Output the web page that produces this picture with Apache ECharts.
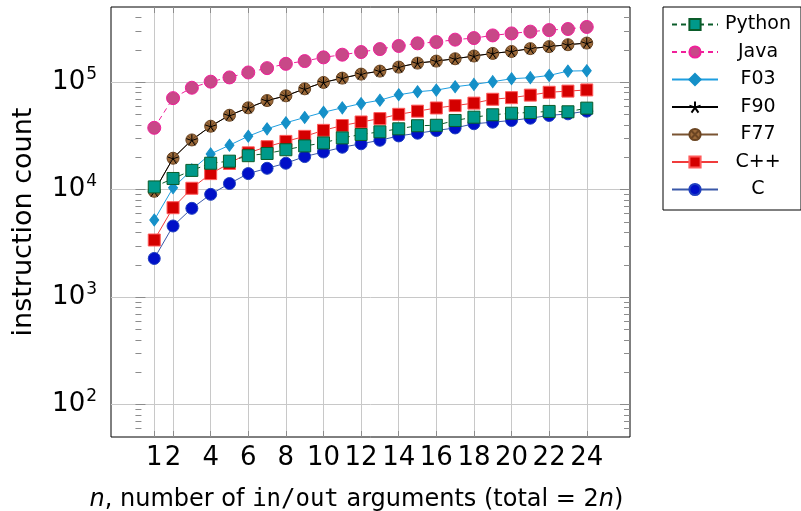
<!DOCTYPE html>
<html>
<head>
<meta charset="utf-8">
<script src="https://cdn.jsdelivr.net/npm/echarts@6/dist/echarts.min.js"></script>
<style>
html, body { margin: 0; padding: 0; background: #fff; }
#chart { width: 801px; height: 511px; }
</style>
</head>
<body>
<div id="chart"></div>
<script>
// n = number of in/out arguments
var nArgs = [1, 2, 3, 4, 5, 6, 7, 8, 9, 10, 11, 12, 13, 14, 15, 16, 17, 18, 19, 20, 21, 22, 23, 24];

// instruction counts
var cCounts = [2290, 4590, 6700, 9040, 11400, 14100, 15800, 17600, 20300, 22400, 24800, 26700,
               28800, 31600, 33500, 35500, 37500, 41000, 42400, 44000, 46200, 49000, 50700, 53700];
var cppCounts = [3400, 6790, 10300, 14100, 17500, 22000, 25100, 28100, 31300, 35600, 39500, 42600,
                 45800, 50200, 53700, 57500, 60500, 63800, 69300, 71700, 75700, 80500, 82500, 84600];
var f77Counts = [9650, 19600, 29000, 38900, 49200, 57700, 67400, 74600, 86700, 99400, 109000, 118800,
                 126700, 138000, 150400, 157000, 165000, 175000, 185000, 193000, 205000, 214000, 223000, 231000];
var f90Counts = [9650, 19600, 29000, 38900, 49200, 57700, 67400, 74600, 86700, 99400, 109000, 118800,
                 126700, 138000, 150400, 157000, 165000, 175000, 185000, 193000, 205000, 214000, 223000, 231000];
var f03Counts = [5220, 10400, 15300, 21500, 25900, 31400, 36800, 41900, 46900, 52500, 57700, 63200,
                 67900, 76300, 81400, 84300, 90600, 95200, 101000, 107600, 110000, 115400, 126700, 127700];
var javaCounts = [37600, 71000, 88700, 101000, 110600, 123000, 135000, 148000, 157000, 170000, 180000, 190500,
                  203000, 217000, 229500, 236000, 248500, 257000, 272000, 284000, 295000, 305000, 312000, 326000];
var pythonCounts = [10600, 12700, 15100, 17600, 18400, 20700, 21700, 23500, 25500, 27200, 30300, 32600,
                    34500, 36800, 39300, 39700, 44000, 47200, 49700, 51400, 52200, 53400, 53000, 57300];

// axes
var xTicks = [1, 2, 4, 6, 8, 10, 12, 14, 16, 18, 20, 22, 24];
var xMin = -1.3, xMax = 26.3;
var yMin = 50, yMax = 500000;
var yMajor = [100, 1000, 10000, 100000];
var yMinor = [60, 70, 80, 90,
              200, 300, 400, 500, 600, 700, 800, 900,
              2000, 3000, 4000, 5000, 6000, 7000, 8000, 9000,
              20000, 30000, 40000, 50000, 60000, 70000, 80000, 90000,
              200000, 300000, 400000];

var legendNames = ['Python', 'Java', 'F03', 'F90', 'F77', 'C++', 'C'];

var FONT = 'DejaVu Sans';
var STAR = 'path://M0,-10L0,0M9.51,-3.09L0,0M5.88,8.09L0,0M-5.88,8.09L0,0M-9.51,-3.09L0,0';
var OTIMES = 'path://M10,0A10,10 0 1 1 -10,0A10,10 0 1 1 10,0ZM-7.07,-7.07L7.07,7.07M-7.07,7.07L7.07,-7.07';

function pairs(vals) {
	var out = [];
	for (var i = 0; i < nArgs.length; i++) {
		out.push([nArgs[i], vals[i]]);
	}
	return out;
}

function logList(arr) {
	return arr.map(function (v) { return Math.log10(v); });
}

// extra value axes in log space, only for the tick marks
function tickAxis(pos, values, len) {
	return {
		type: 'value',
		position: pos,
		min: Math.log10(yMin),
		max: Math.log10(yMax),
		axisLine: { show: false },
		axisLabel: { show: false },
		splitLine: { show: false },
		axisTick: {
			show: true, inside: true, length: len,
			customValues: logList(values),
			lineStyle: { color: '#8c8c8c', width: 1 }
		}
	};
}

function lineSeries(name, vals, opt) {
	return {
		name: name,
		type: 'line',
		xAxisIndex: 0,
		yAxisIndex: 0,
		data: pairs(vals),
		symbol: opt.symbol,
		symbolSize: opt.size,
		showAllSymbol: true,
		lineStyle: { color: opt.line, width: 1, type: opt.dash ? [5, 4] : 'solid' },
		itemStyle: { color: opt.fill, borderColor: opt.border, borderWidth: 1 },
		emphasis: { disabled: true }
	};
}

var chart = echarts.init(document.getElementById('chart'));

var option = {
	animation: false,
	backgroundColor: '#fff',
	textStyle: { fontFamily: FONT },
	grid: {
		left: 111, right: 171, top: 7, bottom: 74,
		outerBoundsMode: 'none',
		containLabel: false,
		show: true, borderColor: '#000', borderWidth: 1, backgroundColor: '#fff'
	},
	legend: {
		data: legendNames,
		orient: 'vertical',
		left: 663, top: 7,
		padding: [8, 8, 11, 8],
		itemGap: 8.5,
		itemWidth: 46,
		itemHeight: 14,
		borderColor: '#000',
		borderWidth: 1,
		borderRadius: 0,
		backgroundColor: '#fff',
		formatter: function (name) { return '{t|' + name + '}'; },
		textStyle: {
			color: '#000',
			rich: { t: { width: 70, align: 'center', fontSize: 19, lineHeight: 20, fontFamily: FONT, color: '#000' } }
		}
	},
	xAxis: [{
		type: 'value',
		min: xMin, max: xMax,
		position: 'bottom',
		axisLine: { show: false },
		axisTick: {
			show: true, inside: true, length: 6,
			customValues: xTicks,
			lineStyle: { color: '#8c8c8c' }
		},
		axisLabel: {
			customValues: xTicks,
			fontSize: 26, color: '#000', margin: 8, fontFamily: FONT
		},
		splitLine: { show: true, lineStyle: { color: '#c8c8c8', width: 1 } },
		name: '{i|n}, number of {m|in/out} arguments (total = 2{i|n})',
		nameLocation: 'middle',
		nameGap: 51,
		nameTextStyle: {
			fontSize: 24, color: '#000', fontFamily: FONT,
			padding: [0, 28, 0, 0],
			rich: {
				i: { fontSize: 24, fontStyle: 'italic', fontFamily: FONT, color: '#000' },
				m: { fontSize: 24, fontFamily: 'DejaVu Sans Mono', color: '#000' }
			}
		}
	}, {
		type: 'value',
		min: xMin, max: xMax,
		position: 'top',
		axisLine: { show: false },
		axisLabel: { show: false },
		splitLine: { show: false },
		axisTick: {
			show: true, inside: true, length: 6,
			customValues: xTicks,
			lineStyle: { color: '#8c8c8c' }
		}
	}],
	yAxis: [{
		type: 'log',
		logBase: 10,
		min: yMin, max: yMax,
		position: 'left',
		axisLine: { show: false },
		axisTick: { show: true, inside: true, length: 10, lineStyle: { color: '#8c8c8c' } },
		minorTick: { show: false },
		splitLine: { show: true, showMinLine: false, showMaxLine: false, lineStyle: { color: '#c8c8c8', width: 1 } },
		axisLabel: {
			margin: 14,
			showMinLabel: false,
			showMaxLabel: false,
			formatter: function (v) {
				var e = Math.round(Math.log10(v));
				if (Math.abs(Math.log10(v) - e) > 1e-6 || yMajor.indexOf(Math.pow(10, e)) < 0) return '';
				return '{b|10}{s|' + e + '}';
			},
			rich: {
				b: { fontSize: 26, fontFamily: FONT, color: '#000' },
				s: { fontSize: 17, fontFamily: FONT, color: '#000', padding: [0, 0, 16, 1] }
			}
		},
		name: 'instruction count',
		nameLocation: 'middle',
		nameGap: 74,
		nameTextStyle: { fontSize: 27, color: '#000', fontFamily: FONT }
	},
		tickAxis('left', yMinor, 6),
		tickAxis('right', yMajor, 10),
		tickAxis('right', yMinor, 6)
	],
	// drawn C first so Python ends up on top
	series: [
		lineSeries('C', cCounts, { symbol: 'circle', size: 12, fill: '#0010c8', border: '#1f3fc0', line: '#3a58a8' }),
		lineSeries('C++', cppCounts, { symbol: 'rect', size: 12, fill: '#d40000', border: '#ff5a5a', line: '#f03c3c' }),
		lineSeries('F77', f77Counts, { symbol: OTIMES, size: 12, fill: '#9c6a3a', border: '#6b4522', line: '#7a5432' }),
		lineSeries('F90', f90Counts, { symbol: STAR, size: 11, fill: '#000', border: '#000', line: '#000' }),
		lineSeries('F03', f03Counts, { symbol: 'diamond', size: [9, 12], fill: '#1590c8', border: '#1590c8', line: '#1e9ee0' }),
		lineSeries('Java', javaCounts, { symbol: 'circle', size: 13, fill: '#c84888', border: '#f0209a', line: '#f0209a', dash: true }),
		lineSeries('Python', pythonCounts, { symbol: 'rect', size: 12, fill: '#00998a', border: '#0a5c2a', line: '#0a5c2a', dash: true })
	]
};

chart.setOption(option);
</script>
</body>
</html>
